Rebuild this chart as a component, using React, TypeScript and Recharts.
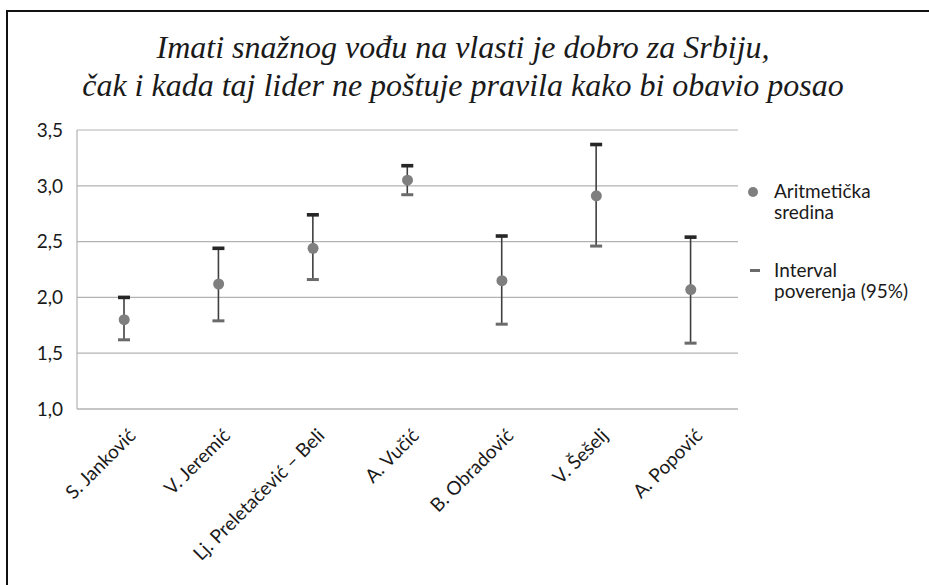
import { ComposedChart, Bar, Line, XAxis, YAxis, CartesianGrid } from 'recharts';

const candidates = [
  'S. Janković',
  'V. Jeremić',
  'Lj. Preletačević – Beli',
  'A. Vučić',
  'B. Obradović',
  'V. Šešelj',
  'A. Popović',
];
const means = [1.8, 2.12, 2.44, 3.05, 2.15, 2.91, 2.07];
const lowerBounds = [1.62, 1.79, 2.16, 2.92, 1.76, 2.46, 1.59];
const upperBounds = [2.0, 2.44, 2.74, 3.18, 2.55, 3.37, 2.54];
const yTicks = [1.0, 1.5, 2.0, 2.5, 3.0, 3.5];

const data = candidates.map((name, i) => ({
  name,
  mean: means[i],
  ci: [lowerBounds[i], upperBounds[i]],
}));

const labelFont = 'Lato, "Open Sans", sans-serif';

// vertikalna linija + gornja (tamna) i donja (siva) crtica
const IntervalShape = (props: any) => {
  const { x, y, width, height } = props;
  if (x == null || y == null) return null;
  const cx = x + width / 2;
  const top = y;
  const bottom = y + height;
  return (
    <g>
      <line x1={cx} x2={cx} y1={top} y2={bottom} stroke="#3f3f3f" strokeWidth={1.6} />
      <rect x={cx - 6} y={top - 1.8} width={12} height={3.6} fill="#262626" />
      <rect x={cx - 6} y={bottom - 1.5} width={12} height={3} fill="#6b6b6b" />
    </g>
  );
};

const XTick = (props: any) => {
  const { x, y, payload } = props;
  return (
    <g transform={`translate(${x + 5},${y + 12})`}>
      <text
        x={0}
        y={0}
        dy={11}
        textAnchor="end"
        fill="#1a1a1a"
        fontSize={19}
        fontFamily={labelFont}
        transform="rotate(-45)"
      >
        {payload.value}
      </text>
    </g>
  );
};

const ChartLegend = () => (
  <div
    style={{
      position: 'absolute',
      left: 745,
      top: 180,
      fontFamily: labelFont,
      fontSize: 19,
      color: '#1a1a1a',
      lineHeight: '21px',
    }}
  >
    <div style={{ display: 'flex', alignItems: 'flex-start' }}>
      <svg width={29} height={21} style={{ flexShrink: 0 }}>
        <circle cx={8} cy={12} r={5} fill="#7f7f7f" />
      </svg>
      <div>
        Aritmetička
        <br />
        sredina
      </div>
    </div>
    <div style={{ display: 'flex', alignItems: 'flex-start', marginTop: 37 }}>
      <svg width={29} height={21} style={{ flexShrink: 0 }}>
        <rect x={5} y={10} width={10} height={3} fill="#6b6b6b" />
      </svg>
      <div>
        Interval
        <br />
        poverenja (95%)
      </div>
    </div>
  </div>
);

export default function App() {
  return (
    <div
      style={{
        position: 'absolute',
        left: 0,
        top: 0,
        width: 929,
        height: 585,
        background: '#fff',
        overflow: 'hidden',
      }}
    >
      <div
        style={{
          position: 'absolute',
          left: 6,
          top: 10,
          width: 940,
          height: 600,
          border: '2px solid #111',
          boxSizing: 'border-box',
        }}
      />
      <div
        style={{
          position: 'absolute',
          left: 0,
          top: 28,
          width: 926,
          textAlign: 'center',
          fontFamily: '"Liberation Serif", serif',
          fontStyle: 'italic',
          fontSize: 32,
          lineHeight: '38px',
          color: '#1a1a1a',
        }}
      >
        Imati snažnog vođu na vlasti je dobro za Srbiju,
        <br />
        čak i kada taj lider ne poštuje pravila kako bi obavio posao
      </div>
      <div style={{ position: 'absolute', left: 0, top: 0 }}>
        <ComposedChart
          width={929}
          height={585}
          data={data}
          margin={{ top: 130, right: 191, bottom: 0, left: 0 }}
        >
          <CartesianGrid vertical={false} stroke="#b3b3b3" strokeWidth={1.2} />
          <XAxis
            dataKey="name"
            interval={0}
            tickLine={false}
            axisLine={{ stroke: '#b3b3b3', strokeWidth: 1.2 }}
            tick={<XTick />}
            height={176}
          />
          <YAxis
            domain={[1, 3.5]}
            ticks={yTicks}
            width={77}
            tickLine={false}
            axisLine={{ stroke: '#b3b3b3', strokeWidth: 1.2 }}
            tickFormatter={(v: number) => v.toFixed(1).replace('.', ',')}
            tick={{ fill: '#1a1a1a', fontSize: 19, fontFamily: labelFont }}
            tickMargin={8}
          />
          <Bar dataKey="ci" barSize={12} shape={<IntervalShape />} isAnimationActive={false} />
          <Line
            dataKey="mean"
            stroke="none"
            dot={{ r: 5.5, fill: '#7f7f7f', stroke: 'none' }}
            activeDot={false}
            isAnimationActive={false}
          />
        </ComposedChart>
      </div>
      <ChartLegend />
    </div>
  );
}
